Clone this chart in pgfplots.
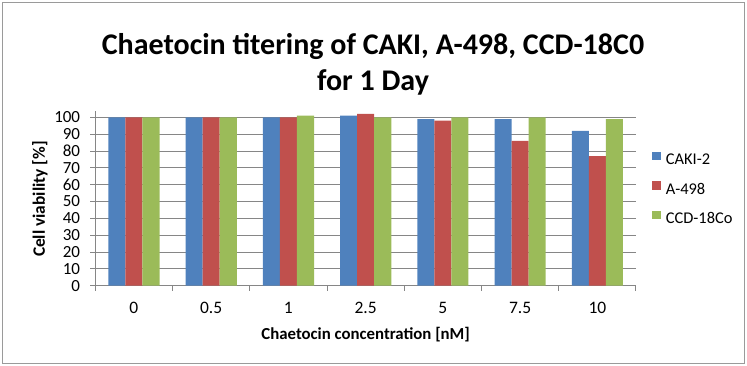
\documentclass[border=0pt]{standalone}
\usepackage{pgfplots}
\usepackage{pgfplotstable}
\pgfplotsset{compat=1.18}
\usepackage{fontspec}
\setmainfont{Carlito}
\definecolor{cblue}{HTML}{4F81BD}
\definecolor{cred}{HTML}{C0504D}
\definecolor{cgreen}{HTML}{9BBB59}
\definecolor{axgray}{HTML}{868686}
\definecolor{bordergray}{HTML}{9A9A9A}

\pgfplotstableread{
cat caki a498 ccd
0 100 100 100
1 100 100 100
2 100 100 101
3 101 102 100
4 99 98 100
5 99 86 100
6 92 77 99
}\datatable

\begin{document}
\begin{tikzpicture}[x=1pt,y=1pt]
\useasboundingbox (0,0) rectangle (747,366);
\draw[color=bordergray, line width=1pt] (2.5,2.5) rectangle (744.5,363.5);
\begin{axis}[
  at={(95.3pt,80.3pt)}, anchor=south west, scale only axis,
  width=540.7pt, height=175.1pt,
  xmin=-0.5, xmax=6.5, ymin=0, ymax=104,
  axis x line=bottom, axis y line=left,
  axis line style={-, draw=axgray, line width=1pt},
  ybar, bar width=0.221,
  ytick={0,10,...,100},
  ymajorgrids, grid style={draw=axgray, line width=1pt},
  xtick={-0.5,0.5,...,6.5}, xticklabels={},
  extra x ticks={0,...,6},
  extra x tick labels={0,0.5,1,2.5,5,7.5,10},
  extra x tick style={major tick length=0pt, grid=none,
     xticklabel style={anchor=base, inner sep=0pt, yshift=-27.5pt, font=\fontsize{17.5}{17.5}\selectfont}},
  tick align=outside, major tick length=5pt,
  tick style={draw=axgray, line width=1pt},
  yticklabel style={anchor=east, inner sep=0pt, xshift=-10pt, font=\fontsize{17}{17}\selectfont},
  /pgf/number format/assume math mode=true,
  xlabel={Chaetocin concentration [nM]},
  ylabel={Cell viability [\%]},
  every axis x label/.style={at={(axis description cs:0.5,-0.305)}, anchor=base, inner sep=0pt, font=\bfseries\fontsize{16.8}{16.8}\selectfont},
  every axis y label/.style={at={(axis description cs:-0.1023,0.495)}, anchor=center, rotate=90, inner sep=0pt, font=\bfseries\fontsize{17.4}{17.4}\selectfont},
  legend style={at={(1.0301,0.7653)}, anchor=north west, draw=none, fill=none, inner sep=0pt,
     row sep=12.5pt, column sep=5pt, font=\fontsize{16.4}{16.4}\selectfont,
     nodes={inner sep=0pt, text height=11pt, text depth=4pt}},
  legend cell align=left,
  legend image code/.code={\path[#1] (0pt,1pt) rectangle (8.4pt,9.4pt);},
]
\addplot[fill=cblue, draw=none, bar shift=-0.221] table[x=cat,y=caki]{\datatable};
\addplot[fill=cred, draw=none, bar shift=0] table[x=cat,y=a498]{\datatable};
\addplot[fill=cgreen, draw=none, bar shift=0.221] table[x=cat,y=ccd]{\datatable};
\legend{CAKI-2, A-498, CCD-18Co}
\end{axis}
\node[anchor=base, inner sep=0pt, font=\bfseries\fontsize{30}{30}\selectfont] at (373,311) {Chaetocin titering of CAKI, A-498, CCD-18C0};
\node[anchor=base, inner sep=0pt, font=\bfseries\fontsize{30}{30}\selectfont] at (373,275) {for 1 Day};
\end{tikzpicture}
\end{document}
